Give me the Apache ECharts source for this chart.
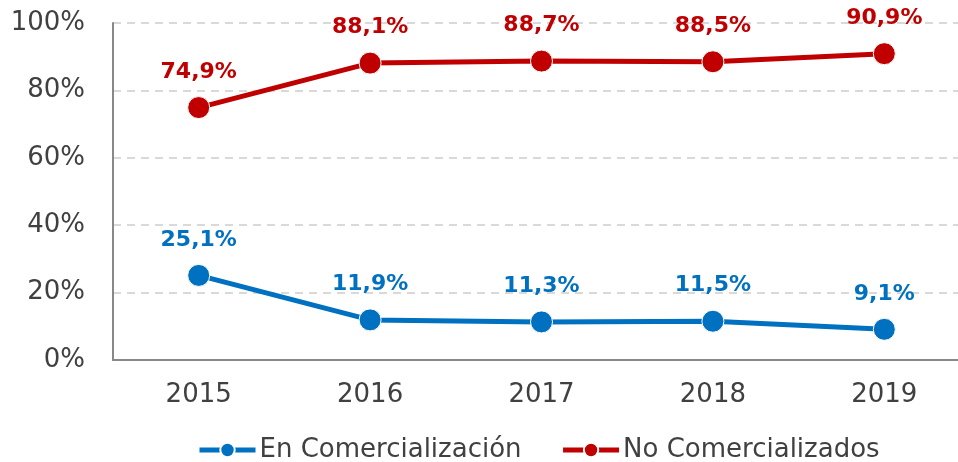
<!DOCTYPE html>
<html>
<head>
<meta charset="utf-8">
<script src="https://cdn.jsdelivr.net/npm/echarts@6/dist/echarts.min.js"></script>
<style>
  html, body { margin: 0; padding: 0; background: #fff; }
  #chart { width: 958px; height: 462px; }
</style>
</head>
<body>
<div id="chart"></div>
<script>
const years = ["2015", "2016", "2017", "2018", "2019"];
const enComercializacion = [25.1, 11.9, 11.3, 11.5, 9.1];
const noComercializados = [74.9, 88.1, 88.7, 88.5, 90.9];
const seriesNames = ["En Comercialización", "No Comercializados"];
const seriesColors = ["#0070C0", "#C00000"];

const font = "'DejaVu Sans'";
const fmt = (v) => v.toFixed(1).replace(".", ",") + "%";

const chart = echarts.init(document.getElementById("chart"), null, { renderer: "canvas" });

const makeSeries = (name, data, color) => ({
  name,
  type: "line",
  data,
  symbol: "circle",
  symbolSize: 22,
  lineStyle: { width: 5, color },
  itemStyle: { color, borderColor: "#fff", borderWidth: 1 },
  label: {
    show: true,
    position: "top",
    distance: 13,
    color,
    fontFamily: font,
    fontWeight: "bold",
    fontSize: 22,
    formatter: (p) => fmt(p.value),
  },
});

chart.setOption({
  backgroundColor: "#fff",
  animation: false,
  grid: { left: 113, width: 857, top: 23, height: 337, outerBoundsMode: "none" },
  legend: {
    top: 437,
    left: 197,
    padding: 0,
    itemWidth: 56,
    itemHeight: 18,
    itemGap: 39,
    lineStyle: { width: 5 },
    textStyle: { fontFamily: font, fontSize: 26, color: "#404040", padding: [0, 0, 0, -1] },
    data: seriesNames,
  },
  xAxis: {
    type: "category",
    data: years,
    boundaryGap: true,
    axisLine: { lineStyle: { color: "#888", width: 2 } },
    axisTick: { show: false },
    axisLabel: { fontFamily: font, fontSize: 26, color: "#404040", margin: 22 },
  },
  yAxis: {
    type: "value",
    min: 0,
    max: 100,
    interval: 20,
    axisLine: { show: true, lineStyle: { color: "#888", width: 2 } },
    axisTick: { show: false },
    axisLabel: {
      fontFamily: font, fontSize: 26, color: "#404040", margin: 28,
      formatter: (v) => v + "%",
    },
    splitLine: { lineStyle: { color: "#d9d9d9", type: [8, 6], width: 2 } },
  },
  series: [
    makeSeries(seriesNames[0], enComercializacion, seriesColors[0]),
    makeSeries(seriesNames[1], noComercializados, seriesColors[1]),
  ],
});
</script>
</body>
</html>
